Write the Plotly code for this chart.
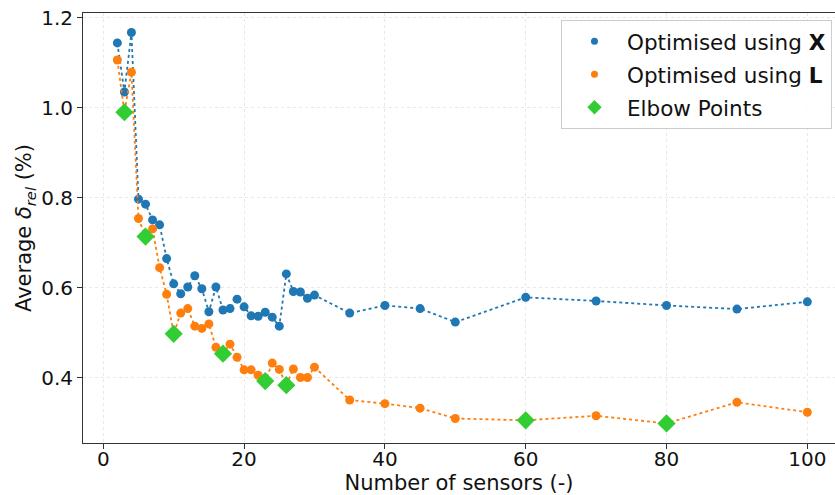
import plotly.graph_objects as go

sensors = [2, 3, 4, 5, 6, 7, 8, 9, 10, 11, 12, 13, 14, 15, 16, 17, 18, 19, 20,
           21, 22, 23, 24, 25, 26, 27, 28, 29, 30, 35, 40, 45, 50, 60, 70, 80, 90, 100]
err_X = [1.144, 1.035, 1.167, 0.797, 0.786, 0.751, 0.740, 0.665, 0.609, 0.587,
         0.602, 0.627, 0.598, 0.547, 0.602, 0.551, 0.554, 0.575, 0.558,
         0.538, 0.537, 0.546, 0.535, 0.515, 0.631, 0.592, 0.591, 0.577, 0.584,
         0.544, 0.561, 0.554, 0.524, 0.579, 0.571, 0.561, 0.553, 0.569]
err_L = [1.106, 0.990, 1.079, 0.754, 0.714, 0.731, 0.645, 0.586, 0.498, 0.544,
         0.554, 0.515, 0.510, 0.520, 0.468, 0.454, 0.475, 0.446, 0.418,
         0.418, 0.406, 0.393, 0.433, 0.419, 0.384, 0.420, 0.401, 0.401, 0.424,
         0.351, 0.343, 0.333, 0.310, 0.306, 0.316, 0.299, 0.346, 0.324]
elbow_x = [3, 6, 10, 17, 23, 26, 60, 80]
elbow_y = [0.990, 0.714, 0.498, 0.454, 0.393, 0.384, 0.306, 0.299]

x_ticks = [0, 20, 40, 60, 80, 100]
y_ticks = [0.4, 0.6, 0.8, 1.0, 1.2]

BLUE = "#1f77b4"
ORANGE = "#ff7f0e"
GREEN = "#32cd32"
FONT = "DejaVu Sans"

fig = go.Figure()
fig.add_trace(go.Scatter(x=sensors, y=err_X, mode="lines+markers",
                         line=dict(color=BLUE, width=1.8, dash="dot"),
                         marker=dict(color=BLUE, size=9), showlegend=False))
fig.add_trace(go.Scatter(x=sensors, y=err_L, mode="lines+markers",
                         line=dict(color=ORANGE, width=1.8, dash="dot"),
                         marker=dict(color=ORANGE, size=9), showlegend=False))
fig.add_trace(go.Scatter(x=elbow_x, y=elbow_y, mode="markers",
                         marker=dict(color=GREEN, size=14, symbol="diamond"),
                         showlegend=False))
# legend entries (markers only)
fig.add_trace(go.Scatter(x=[None], y=[None], mode="markers", name="Optimised using <b>X</b>",
                         marker=dict(color=BLUE, size=7), legendgroup="a"))
fig.add_trace(go.Scatter(x=[None], y=[None], mode="markers", name="Optimised using <b>L</b>",
                         marker=dict(color=ORANGE, size=7), legendgroup="b"))
fig.add_trace(go.Scatter(x=[None], y=[None], mode="markers", name="Elbow Points",
                         marker=dict(color=GREEN, size=11, symbol="diamond"), legendgroup="c"))

axis_common = dict(showline=True, linecolor="#333333", linewidth=1, mirror=True,
                   ticks="outside", ticklen=5, tickcolor="#333333",
                   showgrid=True, gridcolor="#e8e8e8", griddash="dot", gridwidth=1,
                   zeroline=False, tickfont=dict(size=20, color="#111111"),
                   title_font=dict(size=21, color="#111111"))

fig.update_xaxes(range=[-2.88, 103.93], tickvals=x_ticks, ticklabelstandoff=-7,
                 title_text="Number of sensors (-)", title_standoff=2, **axis_common)
fig.update_yaxes(range=[0.2556, 1.2104], tickvals=y_ticks, tickformat=".1f",
                 title_text="Average <i>δ</i><sub><i>rel</i></sub> (%)", title_standoff=3,
                 **axis_common)

fig.update_layout(
    width=835, height=495,
    margin=dict(l=83, r=0, t=13, b=52),
    paper_bgcolor="white", plot_bgcolor="white",
    font=dict(family=FONT, size=20, color="#111111"),
    legend=dict(x=0.996, y=0.984, xanchor="right", yanchor="top",
                bgcolor="rgba(255,255,255,0.85)", bordercolor="#cccccc", borderwidth=1,
                font=dict(size=21.5), traceorder="grouped", tracegroupgap=2,
                itemwidth=55),
)

fig.write_html("out.html")
